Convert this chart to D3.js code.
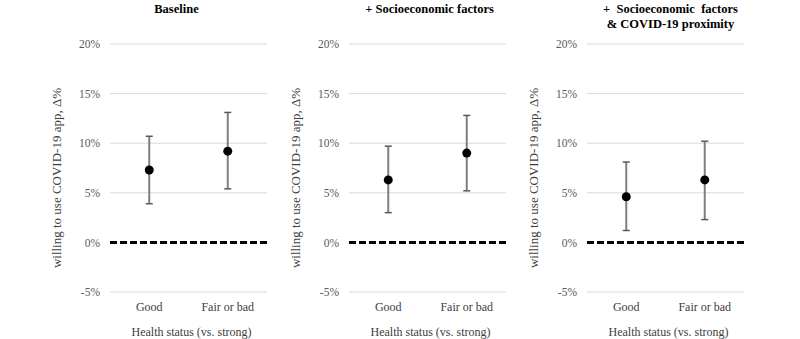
<!DOCTYPE html>
<html>
<head>
<meta charset="utf-8">
<script src="https://cdn.jsdelivr.net/npm/d3@7"></script>
<style>
  body { margin: 0; background: #fff; }
  svg text { font-family: "Liberation Serif", "DejaVu Serif", serif; }
</style>
</head>
<body>
<svg id="chart" width="800" height="339"></svg>
<script>
// data (percentage points)
const categories = ["Good", "Fair or bad"];
const panelTitles = [
    ["Baseline"],
    ["+ Socioeconomic factors"],
    ["+  Socioeconomic  factors", "& COVID-19 proximity"]
];
const estimates = [[7.3, 9.2], [6.3, 9.0], [4.6, 6.3]];
const lower = [[3.9, 5.4], [3.0, 5.2], [1.2, 2.3]];
const upper = [[10.7, 13.1], [9.7, 12.8], [8.1, 10.2]];
const yTicks = [-5, 0, 5, 10, 15, 20];

const svg = d3.select('#chart');

const panelLeft = [110, 349, 587];
const panelWidth = 157;
const plotTop = 44, plotBottom = 292;
const titleShift = [-12, 2, 5];
const serif = '"Liberation Serif", "DejaVu Serif", serif';

const y = d3.scaleLinear().domain([-5, 20]).range([plotBottom, plotTop]);

panelTitles.forEach((title, p) => {
    const g = svg.append('g').attr('transform', `translate(${panelLeft[p]},0)`);
    const x = d3.scaleBand().domain(categories).range([0, panelWidth]);

    // gridlines
    g.append('g').selectAll('line')
        .data(yTicks.filter(d => d !== 0)).enter()
        .append('line')
        .attr('x1', 0).attr('x2', panelWidth)
        .attr('y1', d => y(d)).attr('y2', d => y(d))
        .attr('stroke', '#d9d9d9').attr('stroke-width', 1);

    // y axis labels
    const yAxis = d3.axisLeft(y).tickValues(yTicks).tickSize(0).tickPadding(10)
        .tickFormat(d => d + '%');
    g.append('g').call(yAxis)
        .attr('font-family', serif)
        .call(a => a.select('.domain').remove())
        .selectAll('text')
        .attr('fill', '#595959').style('font-size', '11.5px');

    // zero line
    g.append('line')
        .attr('x1', 0).attr('x2', panelWidth)
        .attr('y1', y(0)).attr('y2', y(0))
        .attr('stroke', '#000').attr('stroke-width', 3)
        .attr('stroke-dasharray', '7,3');

    // x axis labels
    const xAxis = d3.axisBottom(x).tickSize(0).tickPadding(10);
    g.append('g').attr('transform', `translate(0,${plotBottom})`).call(xAxis)
        .attr('font-family', serif)
        .call(a => a.select('.domain').remove())
        .selectAll('text')
        .attr('fill', '#404040').style('font-size', '12px');

    // error bars
    const cx = c => x(c) + x.bandwidth() / 2;
    const bars = g.append('g').selectAll('g')
        .data(categories).enter().append('g');
    bars.append('line')
        .attr('x1', cx).attr('x2', cx)
        .attr('y1', (c, i) => y(lower[p][i])).attr('y2', (c, i) => y(upper[p][i]))
        .attr('stroke', '#7f7f7f').attr('stroke-width', 2);
    [lower, upper].forEach(arr => {
        bars.append('line')
            .attr('x1', c => cx(c) - 3.5).attr('x2', c => cx(c) + 3.5)
            .attr('y1', (c, i) => y(arr[p][i])).attr('y2', (c, i) => y(arr[p][i]))
            .attr('stroke', '#595959').attr('stroke-width', 1.5);
    });
    bars.append('circle')
        .attr('cx', cx).attr('cy', (c, i) => y(estimates[p][i]))
        .attr('r', 4.5).attr('fill', '#000');

    // titles
    const t = g.append('text')
        .attr('text-anchor', 'middle')
        .style('font-size', '12.5px').style('font-weight', 'bold')
        .style('white-space', 'pre')
        .attr('fill', '#000');
    title.forEach((line, i) => {
        t.append('tspan')
            .attr('x', panelWidth / 2 + titleShift[p])
            .attr('y', 13 + i * 15)
            .text(line);
    });

    // axis titles
    g.append('text')
        .attr('x', panelWidth / 2 + 3).attr('y', 336)
        .attr('text-anchor', 'middle')
        .attr('fill', '#404040').style('font-size', '12px')
        .text('Health status (vs. strong)');

    g.append('text')
        .attr('transform', `translate(-49,178) rotate(-90)`)
        .attr('text-anchor', 'middle')
        .attr('fill', '#404040').style('font-size', '13px')
        .text('willing to use COVID-19 app, Δ%');
});
</script>
</body>
</html>
